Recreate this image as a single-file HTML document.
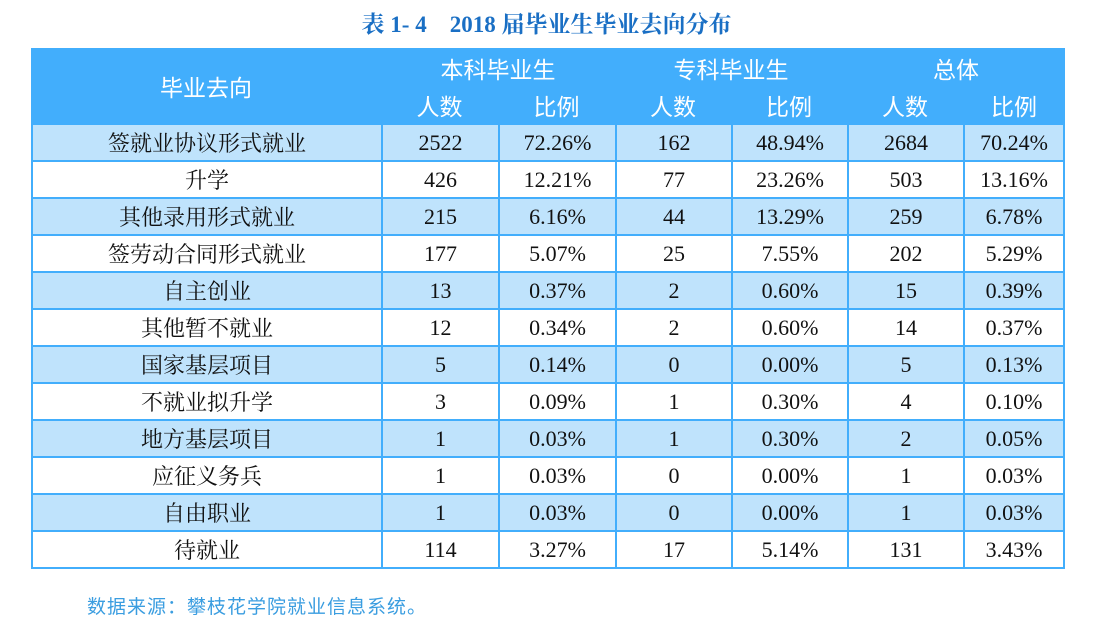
<!DOCTYPE html>
<html><head><meta charset="utf-8"><style>
body{margin:0;width:1093px;height:626px;background:#fff;position:relative;overflow:hidden;font-family:"Liberation Serif","Noto Serif CJK SC",serif;}
.t{position:absolute;left:0;width:1093px;top:6px;text-align:center;font-weight:bold;color:#1a6fc4;font-size:23px;}
.c{position:absolute;display:flex;align-items:center;justify-content:center;box-sizing:border-box;font-size:22px;color:#111;}
.h{color:#fff;font-family:"Liberation Sans","Noto Sans CJK SC",sans-serif;font-size:23px;}
.f{position:absolute;left:87px;top:592px;color:#3a9de0;font-size:19px;letter-spacing:1px;font-family:"Liberation Sans","Noto Sans CJK SC",sans-serif;}
</style></head><body>
<div class="t">表 1- 4&nbsp;&nbsp;&nbsp; 2018 届毕业生毕业去向分布</div>
<div id="tb"></div>
<div class="f">数据来源：攀枝花学院就业信息系统。</div>
<script>
var xs=[31,381,498,615,731,847,963,1065];
var rows=[["签就业协议形式就业","2522","72.26%","162","48.94%","2684","70.24%"],
["升学","426","12.21%","77","23.26%","503","13.16%"],
["其他录用形式就业","215","6.16%","44","13.29%","259","6.78%"],
["签劳动合同形式就业","177","5.07%","25","7.55%","202","5.29%"],
["自主创业","13","0.37%","2","0.60%","15","0.39%"],
["其他暂不就业","12","0.34%","2","0.60%","14","0.37%"],
["国家基层项目","5","0.14%","0","0.00%","5","0.13%"],
["不就业拟升学","3","0.09%","1","0.30%","4","0.10%"],
["地方基层项目","1","0.03%","1","0.30%","2","0.05%"],
["应征义务兵","1","0.03%","0","0.00%","1","0.03%"],
["自由职业","1","0.03%","0","0.00%","1","0.03%"],
["待就业","114","3.27%","17","5.14%","131","3.43%"]];
var h='';
function d(x,y,w,hh,txt,st,cls){h+='<div class="c '+(cls||'')+'" style="left:'+x+'px;top:'+y+'px;width:'+w+'px;height:'+hh+'px;'+(st||'')+'">'+txt+'</div>';}
d(31,48,1034,75,'','background:#42aefc');
d(31,48,350,75,'毕业去向','',"h");
var g=['本科毕业生','专科毕业生','总体'];
for(var i=0;i<3;i++){d(xs[1+2*i],50,xs[3+2*i]-xs[1+2*i],36,g[i],'','h');d(xs[1+2*i],87,xs[2+2*i]-xs[1+2*i],36,'人数','','h');d(xs[2+2*i],87,xs[3+2*i]-xs[2+2*i],36,'比例','','h');}
for(var r=0;r<12;r++){var y=123+r*37;var bg=r%2==0?'#bfe3fc':'#fff';
for(var c=0;c<7;c++){var txt=rows[r][c];var w=xs[c+1]-xs[c]+(c==6?0:2);d(xs[c],y,w,39,txt,'background:'+bg+';border:2px solid #42aefc;'+(c==0?'font-family:"Liberation Sans","Noto Sans CJK SC",sans-serif;font-size:22px;':''));}}
document.getElementById('tb').innerHTML=h;
</script>
</body></html>
